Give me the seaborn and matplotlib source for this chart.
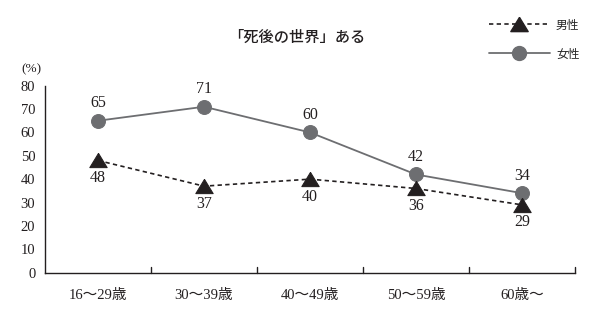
import matplotlib
matplotlib.use("Agg")
import matplotlib.pyplot as plt
import seaborn as sns
import pandas as pd
from matplotlib.lines import Line2D

categories = ["16～29歳", "30～39歳", "40～49歳", "50～59歳", "60歳～"]
male = [48, 37, 40, 36, 29]
female = [65, 71, 60, 42, 34]
y_ticks = [0, 10, 20, 30, 40, 50, 60, 70, 80]

sns.set_theme(style="white")
plt.rcParams["font.family"] = ["Liberation Serif", "Noto Sans CJK JP"]

df = pd.DataFrame({
    "x": list(range(len(categories))) * 2,
    "value": male + female,
    "sex": ["男性"] * len(male) + ["女性"] * len(female),
})

W, H = 598, 327
fig = plt.figure(figsize=(W / 100, H / 100), dpi=100)
ax = fig.add_axes([45 / W, 1 - 272.6 / H, 530 / W, (272.6 - 85.7) / H])

ink = "#231f20"
grey = "#6d6e71"
dash = (0, (2.6, 2))
# a slightly squat triangle marker
tri = [(0, 0.82), (-1, -0.82), (1, -0.82), (0, 0.82)]

sns.lineplot(data=df[df.sex == "女性"], x="x", y="value", ax=ax, color=grey,
             marker="o", markersize=10, markeredgecolor=grey, linewidth=1.3)
sns.lineplot(data=df[df.sex == "男性"], x="x", y="value", ax=ax, color=ink,
             marker=tri, markersize=12.5, markeredgecolor=ink, linewidth=1.2,
             linestyle=dash)

for i, v in enumerate(female):
    ax.annotate(str(v), (i, v), xytext=(0, 12.5), textcoords="offset points",
                ha="center", va="center", fontsize=11.5, color=ink)
for i, v in enumerate(male):
    ax.annotate(str(v), (i, v), xytext=(0, -12.5), textcoords="offset points",
                ha="center", va="center", fontsize=11.5, color=ink)

ax.set_xlim(-0.5, len(categories) - 0.5)
ax.set_ylim(0, 80)
ax.set_yticks(y_ticks)
ax.set_yticklabels([str(t) for t in y_ticks], fontsize=10.5, color=ink)
ax.set_xticks(range(len(categories)))
ax.set_xticklabels(categories, fontsize=10.5, color=ink)
ax.tick_params(axis="x", length=0, pad=12)
ax.tick_params(axis="y", direction="in", length=9.5, width=1, color=ink, pad=7)
# category separators on the bottom axis
for b in [0.5, 1.5, 2.5, 3.5, 4.5]:
    ax.axvline(b, ymin=0, ymax=0.028, color=ink, linewidth=1, clip_on=False)
ax.set_xlabel("")
ax.set_ylabel("")
for s in ["top", "right"]:
    ax.spines[s].set_visible(False)
for s in ["left", "bottom"]:
    ax.spines[s].set_color(ink)
    ax.spines[s].set_linewidth(1)
if ax.get_legend():
    ax.get_legend().remove()

fig.text(31 / W, 1 - 69 / H, "(%)", fontsize=9.5, ha="center", va="center", color=ink)
fig.text(297 / W, 1 - 37 / H, "「死後の世界」ある", fontsize=11,
         ha="center", va="center", family=["Noto Sans CJK JP"], color=ink,
         weight="medium")

handles = [
    Line2D([], [], color=ink, linestyle=dash, marker=tri, markersize=12.5,
           linewidth=1.2),
    Line2D([], [], color=grey, marker="o", markersize=10, linewidth=1.3),
]
fig.legend(handles, ["男性", "女性"], loc="upper left",
           bbox_to_anchor=(478 / W, 1 - 8 / H),
           frameon=False, prop={"family": "Noto Sans CJK JP", "size": 8.5},
           handlelength=5.2, labelspacing=1.35, handletextpad=0.5)

fig.savefig("out.png", dpi=100)
